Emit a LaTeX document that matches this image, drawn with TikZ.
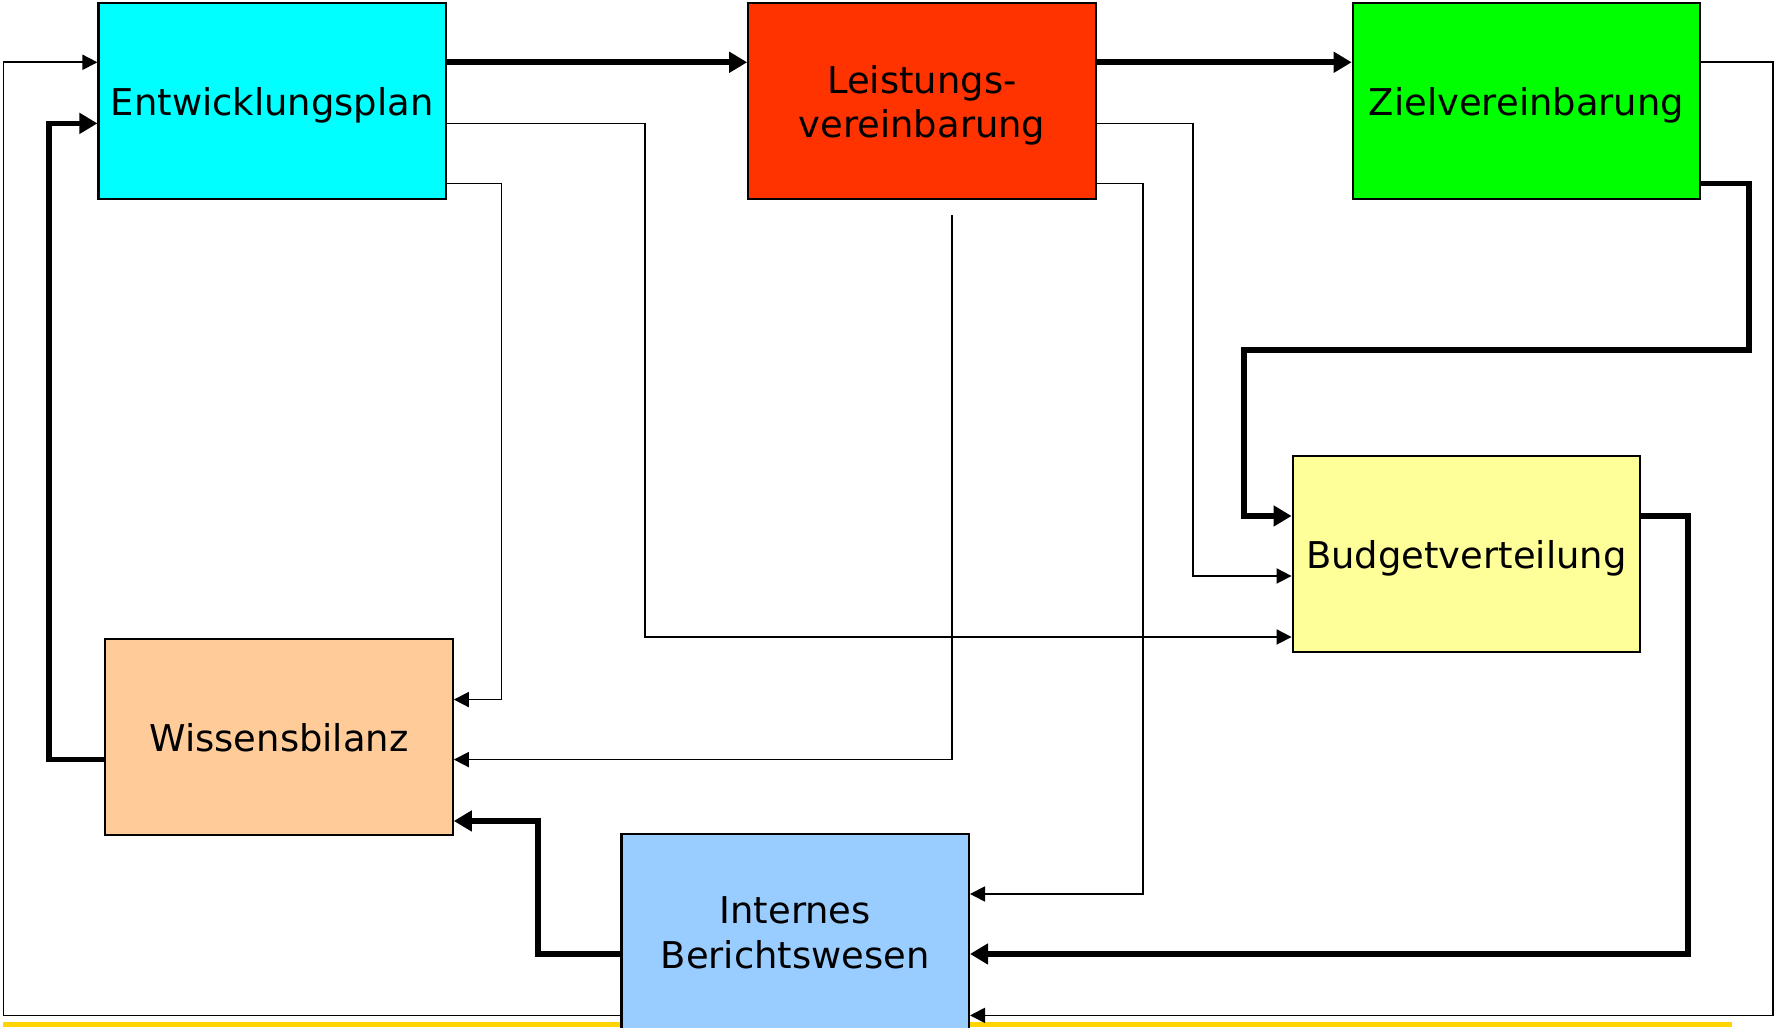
\documentclass[tikz,border=0pt]{standalone}
\usepackage{fontspec}
\setmainfont{DejaVu Sans}
\usetikzlibrary{arrows.meta}
\definecolor{plan}{HTML}{00FFFF}
\definecolor{leistung}{HTML}{FF3300}
\definecolor{ziel}{HTML}{00FF00}
\definecolor{budget}{HTML}{FFFF99}
\definecolor{wissen}{HTML}{FFCC99}
\definecolor{bericht}{HTML}{99CCFF}
\definecolor{rule}{HTML}{FFD400}
\begin{document}
\begin{tikzpicture}[
  x=0.1mm, y=-0.1mm,
  line join=miter,
  every node/.style={font=\fontsize{10.5pt}{12.6pt}\selectfont},
  box/.style={draw=black, line width=0.6pt, minimum width=34.75mm, minimum height=19.6mm, inner sep=0pt, align=center,
    text height=10pt, text depth=1.6pt},
  twoline/.style={text height=22.6pt, text depth=2pt},
  link/.style={draw=black, line width=0.5pt, -{Triangle[length=1.5mm, width=1.5mm]}},
  heavy/.style={draw=black, line width=1.6pt, -{Triangle[length=1.8mm, width=2mm]}},
]
\useasboundingbox (0,0) rectangle (1775,1028);
\draw[rule, line width=0.5mm] (3.4,1025) -- (1732,1025);
\coordinate (r1) at (0,62.3);
\coordinate (r2) at (0,123.4);
\coordinate (r3) at (0,183.4);
\coordinate (se) at (1773,1015.4);
\coordinate (sw) at (3.4,1015.4);
\coordinate (k1) at (645,637);
\coordinate (k2) at (501.5,699.6);
\coordinate (lvfoot) at (952,215);
\coordinate (k3) at (952,759.6);
\coordinate (k4) at (1193,576);
\coordinate (k5) at (1143,894);
\coordinate (k6) at (1749,350);
\coordinate (k7) at (1244,516);
\coordinate (k8) at (1688,954);
\coordinate (k9) at (538,821);
\coordinate (k10) at (48.7,123.4);
\node[box, fill=plan] (EP) at (272.25,101.2) {Entwicklungsplan};
\node[box, twoline, fill=leistung] (LV) at (922,101.2) {Leistungs-\\vereinbarung};
\node[box, fill=ziel] (ZV) at (1526.5,101.2) {Zielvereinbarung};
\node[box, fill=budget] (BV) at (1466.4,554) {Budgetverteilung};
\node[box, fill=wissen] (WB) at (279,737) {Wissensbilanz};
\node[box, twoline, fill=bericht] (IB) at (795.2,932) {Internes~\\Berichtswesen};
\draw[heavy] (EP.east |- r1) -- (LV.west |- r1);
\draw[heavy] (LV.east |- r1) -- (ZV.west |- r1);
\draw[link] (ZV.east |- r1) -| (se) -- (IB.east |- se);
\draw[link] (IB.west |- sw) -- (sw) |- (EP.west |- r1);
\draw[link] (EP.east |- r2) -| (k1) -- (BV.west |- k1);
\draw[link] (EP.east |- r3) -| (k2) -- (WB.east |- k2);
\draw[link] (lvfoot) -- (k3) -- (WB.east |- k3);
\draw[link] (LV.east |- r2) -| (k4) -- (BV.west |- k4);
\draw[link] (LV.east |- r3) -| (k5) -- (IB.east |- k5);
\draw[heavy] (ZV.east |- r3) -| (k6) -| (k7) -- (BV.west |- k7);
\draw[heavy] (BV.east |- k7) -| (k8) -- (IB.east |- k8);
\draw[heavy] (IB.west |- k8) -| (k9) -- (WB.east |- k9);
\draw[heavy] (WB.west |- k3) -| (k10) -- (EP.west |- k10);
\end{tikzpicture}
\end{document}
